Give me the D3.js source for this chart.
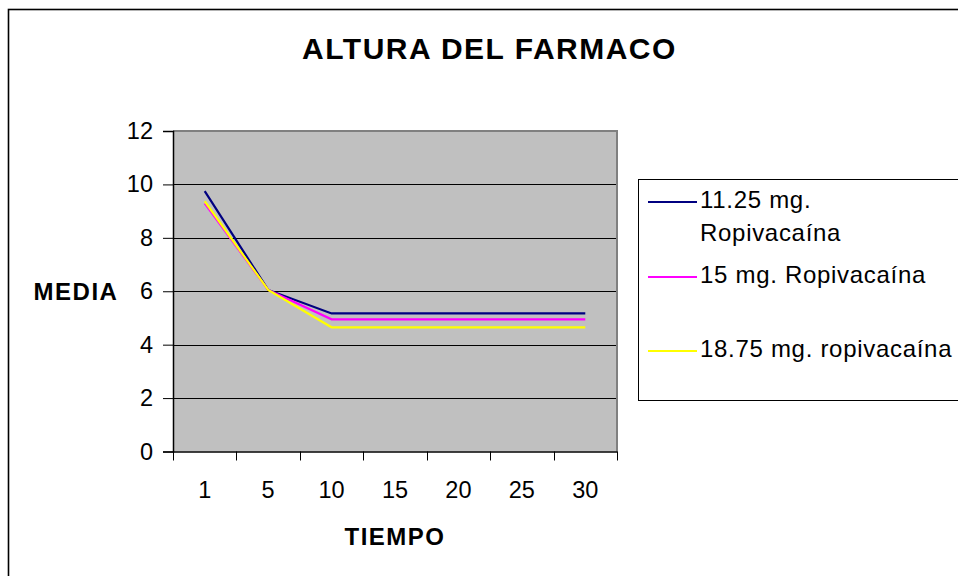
<!DOCTYPE html>
<html>
<head>
<meta charset="utf-8">
<script src="https://cdn.jsdelivr.net/npm/d3@7"></script>
<style>
  html, body { margin: 0; padding: 0; background: #fff; }
  svg { display: block; font-family: "Liberation Sans", Arial, sans-serif; }
</style>
</head>
<body>
<svg id="chart" width="958" height="576"></svg>
<script>
// Tiempo categories and mean height per dose
const categories = ["1", "5", "10", "15", "20", "25", "30"];
const dose1125 = [9.75, 6.05, 5.17, 5.17, 5.17, 5.17, 5.17];
const dose15 = [9.29, 6.05, 4.95, 4.95, 4.95, 4.95, 4.95];
const dose1875 = [9.37, 6.05, 4.65, 4.65, 4.65, 4.65, 4.65];
const yTicks = [0, 2, 4, 6, 8, 10, 12];
const seriesNames = [["11.25 mg.", "Ropivacaína"], ["15 mg. Ropivacaína"], ["18.75 mg. ropivacaína"]];
const seriesColors = ["#000080", "#FF00FF", "#FFFF00"];

const series = [dose1125, dose15, dose1875].map((values, i) => ({
  name: seriesNames[i], color: seriesColors[i], values
}));

const svg = d3.select("#chart");

// Outer chart frame
svg.append("rect")
  .attr("x", 8.5).attr("y", 9.5)
  .attr("width", 1200).attr("height", 1200)
  .attr("fill", "#fff").attr("stroke", "#000").attr("stroke-width", 1.6);

const plot = { left: 173, right: 617, top: 131, bottom: 451.5 };

const x = d3.scaleBand().domain(categories).range([plot.left, plot.right]).padding(0);
const y = d3.scaleLinear().domain([0, 12]).range([plot.bottom, plot.top]);

// Plot background
svg.append("rect")
  .attr("x", plot.left).attr("y", plot.top)
  .attr("width", plot.right - plot.left).attr("height", plot.bottom - plot.top)
  .attr("fill", "#C0C0C0");

// Horizontal gridlines
svg.append("g").selectAll("line")
  .data(yTicks.filter(v => v > 0 && v < 12))
  .join("line")
  .attr("x1", plot.left).attr("x2", plot.right)
  .attr("y1", d => Math.round(y(d)) + 0.5).attr("y2", d => Math.round(y(d)) + 0.5)
  .attr("stroke", "#000").attr("stroke-width", 1);

// Plot border on top and right
svg.append("path")
  .attr("d", `M${plot.left},${plot.top} H${plot.right} V${plot.bottom}`)
  .attr("fill", "none").attr("stroke", "#808080").attr("stroke-width", 2);

// Y axis
const yAxis = svg.append("g")
  .attr("transform", `translate(${plot.left},0)`)
  .call(d3.axisLeft(y).tickValues(yTicks).tickSize(10).tickPadding(10));
yAxis.select(".domain").attr("stroke", "#000").attr("stroke-width", 1.5);
yAxis.selectAll(".tick line").attr("stroke", "#000");
yAxis.selectAll("text")
  .attr("font-size", 23.5).attr("fill", "#000")
  .attr("font-family", "Liberation Sans, Arial, sans-serif");

// X axis with tick marks at category boundaries
const xAxis = svg.append("g")
  .attr("transform", `translate(0,${plot.bottom})`)
  .call(d3.axisBottom(x).tickSize(0).tickPadding(30));
xAxis.select(".domain").attr("stroke", "#000").attr("stroke-width", 1.5);
xAxis.selectAll("text")
  .attr("font-size", 23.5).attr("fill", "#000")
  .attr("font-family", "Liberation Sans, Arial, sans-serif");
const bounds = categories.map(c => x(c)).concat([x.range()[1]]);
xAxis.selectAll(".bound")
  .data(bounds)
  .join("line")
  .attr("class", "bound")
  .attr("x1", d => Math.round(d) + 0.5).attr("x2", d => Math.round(d) + 0.5)
  .attr("y1", 0).attr("y2", 9)
  .attr("stroke", "#000");

// Series lines
const line = d3.line()
  .x((d, i) => x(categories[i]) + x.bandwidth() / 2)
  .y(d => y(d));

svg.append("g").selectAll("path")
  .data(series)
  .join("path")
  .attr("d", d => line(d.values))
  .attr("fill", "none")
  .attr("stroke", d => d.color)
  .attr("stroke-width", 2.2)
  .attr("stroke-linejoin", "miter");

// Titles
svg.append("text")
  .attr("x", 489.5).attr("y", 59)
  .attr("text-anchor", "middle")
  .attr("font-size", 30).attr("font-weight", "bold")
  .attr("letter-spacing", 1.5)
  .text("ALTURA DEL FARMACO");

svg.append("text")
  .attr("x", 76).attr("y", 300)
  .attr("text-anchor", "middle")
  .attr("font-size", 24).attr("font-weight", "bold")
  .attr("letter-spacing", 1.5)
  .text("MEDIA");

svg.append("text")
  .attr("x", 395).attr("y", 545)
  .attr("text-anchor", "middle")
  .attr("font-size", 24).attr("font-weight", "bold")
  .attr("letter-spacing", 1.5)
  .text("TIEMPO");

// Legend
const legend = svg.append("g");
legend.append("rect")
  .attr("x", 638.5).attr("y", 179.5)
  .attr("width", 400).attr("height", 221)
  .attr("fill", "#fff").attr("stroke", "#000").attr("stroke-width", 1);

const legendRows = [
  { lineY: 202, baseY: 208 },
  { lineY: 277, baseY: 283 },
  { lineY: 351, baseY: 357 }
];
series.forEach((s, i) => {
  const r = legendRows[i];
  legend.append("line")
    .attr("x1", 648).attr("x2", 697)
    .attr("y1", r.lineY).attr("y2", r.lineY)
    .attr("stroke", s.color).attr("stroke-width", 2);
  const t = legend.append("text")
    .attr("x", 700).attr("y", r.baseY)
    .attr("font-size", 24).attr("letter-spacing", 0.7).attr("fill", "#000");
  s.name.forEach((part, k) => {
    t.append("tspan").attr("x", 700).attr("dy", k === 0 ? 0 : 33).text(part);
  });
});
</script>
</body>
</html>
